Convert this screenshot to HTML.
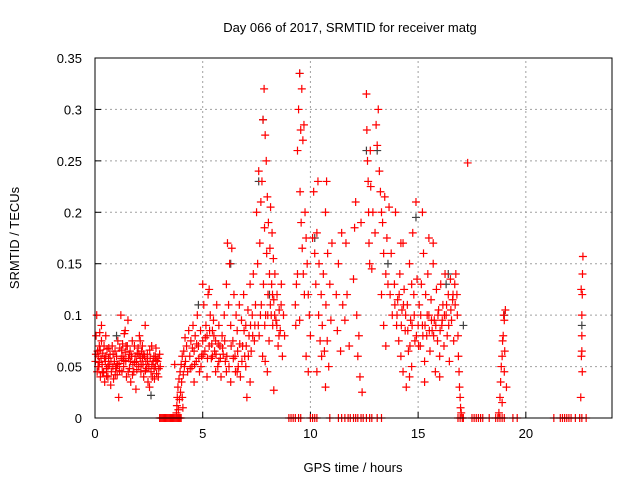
<!DOCTYPE html>
<html><head><meta charset="utf-8"><style>
body{margin:0;background:#fff;}
svg{display:block;font-family:"Liberation Sans",sans-serif;}
</style></head><body>
<svg id="chart" width="640" height="480" viewBox="0 0 640 480" xmlns="http://www.w3.org/2000/svg">
<text x="350" y="32" font-size="13" text-anchor="middle">Day 066 of 2017, SRMTID for receiver matg</text>
<text transform="translate(19,238) rotate(-90)" font-size="13" text-anchor="middle">SRMTID / TECUs</text>
<text x="353" y="472" font-size="13" text-anchor="middle">GPS time / hours</text>
<g id="grid"></g>
<g id="ticks"></g>
<g id="gray"></g>
<g id="red"></g>
<rect x="95" y="58" width="517" height="360" fill="none" stroke="#000" stroke-width="1"/>
</svg>
<script>
const xTicks=[0,5,10,15,20];
const yTicks=[0,0.05,0.1,0.15,0.2,0.25,0.3,0.35];
const yTickLabels=["0","0.05","0.1","0.15","0.2","0.25","0.3","0.35"];
const redPoints=[[0.02,.055],[0.05,.08],[0.08,.1],[0.1,.045],[0.12,.065],[0.15,.06],[0.18,.05],[0.2,.07],[0.22,.083],[0.25,.04],[0.28,.058],[0.3,.075],[0.33,.052],[0.36,.063],[0.4,.045],[0.42,.07],[0.45,.035],[0.48,.055],[0.5,.06],[0.53,.048],[0.56,.067],[0.6,.04],[0.63,.058],[0.66,.052],[0.7,.062],[0.73,.032],[0.76,.045],[0.8,.07],[0.83,.05],[0.86,.038],[0.9,.055],[0.93,.065],[0.96,.048],[1.0,.06],[1.03,.042],[1.06,.075],[1.1,.02],[1.12,.053],[1.15,.068],[1.2,.1],[1.22,.058],[1.25,.045],[1.28,.072],[1.3,.06],[1.33,.05],[1.36,.082],[1.4,.064],[1.43,.055],[1.46,.04],[1.5,.07],[1.53,.095],[1.56,.058],[1.6,.048],[1.63,.065],[1.66,.035],[1.7,.06],[1.73,.075],[1.76,.052],[1.8,.045],[1.83,.07],[1.86,.06],[1.9,.028],[1.93,.055],[1.96,.063],[2.0,.068],[2.03,.05],[2.06,.08],[2.1,.058],[2.13,.045],[2.16,.065],[2.2,.07],[2.23,.052],[2.26,.04],[2.3,.06],[2.33,.09],[2.36,.055],[2.4,.048],[2.43,.062],[2.46,.035],[2.5,.05],[2.53,.03],[2.56,.058],[2.6,.045],[2.63,.07],[2.66,.04],[2.7,.055],[2.73,.06],[2.76,.038],[2.8,.05],[2.83,.068],[2.86,.043],[2.9,.055],[2.93,.058],[2.96,.048],[3.0,.062],[3.03,.05],[0.5,.08],[1.4,.085],[0.3,.09],[2.1,.075],
[0.04,.062],[0.14,.05],[0.24,.066],[0.34,.044],[0.44,.058],[0.54,.041],[0.64,.068],[0.74,.055],[0.84,.062],[0.94,.042],[1.04,.052],[1.14,.046],[1.24,.066],[1.34,.056],[1.44,.07],[1.54,.045],[1.64,.055],[1.74,.042],[1.84,.054],[1.94,.047],[2.04,.062],[2.14,.052],[2.24,.062],[2.34,.046],[2.44,.055],[2.54,.066],[2.64,.052],[2.74,.048],[2.84,.056],[2.94,.04],[0.2,.054],[0.6,.05],[1.0,.05],[1.6,.062],[2.2,.058],[2.8,.06],
[3.78,.005],[3.8,.012],[3.82,.02],[3.85,.03],[3.87,.008],[3.9,.038],[3.92,.018],[3.95,.045],[3.97,.025],[4.0,.052],[4.02,.035],[4.05,.06],[4.08,.01],[4.1,.042],[4.12,.065],[4.15,.05],[4.18,.078],[4.2,.055],[4.25,.07],[4.3,.045],[4.35,.085],[3.7,.052],[4.05,.02],
[4.4,.06],[4.45,.075],[4.5,.05],[4.55,.09],[4.6,.065],[4.65,.08],[4.7,.055],[4.75,.1],[4.8,.07],[4.85,.045],[4.9,.085],[4.95,.06],[5.0,.075],[5.05,.11],[5.1,.065],[5.15,.09],[5.2,.08],[5.25,.12],[5.3,.07],[5.35,.1],[5.4,.058],[5.45,.085],[5.5,.095],[5.55,.065],[5.6,.075],[5.65,.11],[5.7,.05],[5.75,.09],[5.8,.07],[5.85,.04],[5.9,.08],[5.95,.062],[6.0,.1],[6.05,.055],[5.3,.125],[5.0,.13],[4.6,.035],[5.6,.045],[6.1,.045],[5.2,.04],
[4.42,.048],[4.52,.068],[4.62,.052],[4.72,.072],[4.82,.058],[4.92,.05],[5.02,.062],[5.12,.078],[5.22,.058],[5.32,.085],[5.42,.072],[5.52,.08],[5.62,.062],[5.72,.072],[5.82,.058],[5.92,.068],[6.02,.075],[5.45,.06],[5.75,.055],
[6.1,.13],[6.15,.17],[6.2,.11],[6.25,.15],[6.3,.09],[6.35,.165],[6.4,.075],[6.45,.12],[6.5,.06],[6.55,.1],[6.6,.085],[6.65,.05],[6.7,.11],[6.75,.04],[6.8,.095],[6.85,.07],[6.9,.12],[6.95,.06],[7.0,.09],[7.05,.02],[7.1,.105],[7.15,.08],[7.2,.13],[7.25,.065],[7.3,.1],[7.35,.14],[7.4,.075],[7.45,.11],[6.3,.035],[6.6,.045],[7.0,.05],[7.2,.035],
[6.12,.06],[6.22,.05],[6.32,.07],[6.42,.058],[6.52,.045],[6.62,.065],[6.72,.072],[6.82,.055],[6.92,.085],[7.02,.07],[7.12,.06],[7.22,.09],[7.32,.08],[7.42,.09],
[7.5,.2],[7.55,.15],[7.6,.24],[7.62,.08],[7.65,.17],[7.7,.21],[7.72,.11],[7.75,.23],[7.78,.06],[7.8,.29],[7.82,.13],[7.85,.32],[7.87,.185],[7.9,.275],[7.92,.1],[7.95,.25],[7.97,.16],[8.0,.215],[8.03,.12],[8.05,.19],[8.08,.075],[8.1,.14],[8.12,.165],[8.15,.205],[8.18,.1],[8.2,.13],[8.22,.18],[8.25,.09],[8.28,.155],[8.3,.115],[8.35,.14],[8.4,.095],[8.45,.12],[8.5,.07],[8.55,.105],[8.6,.085],[8.65,.13],[8.7,.06],[8.75,.1],[8.8,.08],[8.3,.027],[7.9,.055],[8.0,.045],
[7.58,.09],[7.68,.1],[7.88,.09],[8.02,.1],[8.14,.11],[8.24,.12],[8.34,.1],[8.44,.09],[8.54,.08],[8.64,.11],
[9.4,.26],[9.45,.3],[9.5,.335],[9.52,.22],[9.55,.28],[9.57,.19],[9.6,.32],[9.62,.165],[9.65,.27],[9.67,.14],[9.7,.285],[9.72,.12],[9.75,.2],[9.3,.11],[9.35,.13],[9.32,.09],[9.4,.14],[9.5,.095],[9.8,.175],[9.85,.15],[9.9,.12],[9.95,.1],[10.0,.08],[9.8,.06],[9.9,.045],
[10.1,.175],[10.15,.22],[10.2,.16],[10.25,.13],[10.3,.18],[10.35,.23],[10.38,.1],[10.4,.15],[10.45,.075],[10.5,.12],[10.52,.06],[10.55,.09],[10.6,.14],[10.65,.065],[10.7,.2],[10.72,.11],[10.75,.23],[10.78,.075],[10.8,.16],[10.85,.05],[10.9,.13],[10.95,.095],[11.0,.17],[10.3,.045],[10.7,.03],
[11.2,.12],[11.25,.085],[11.3,.15],[11.4,.065],[11.45,.18],[11.5,.11],[11.6,.095],[11.65,.17],[11.7,.12],[11.8,.07],[12.0,.135],[12.05,.185],[12.1,.21],[12.15,.1],[12.2,.06],[12.25,.08],[12.3,.04],[12.35,.19],[12.4,.025],
[12.6,.315],[12.62,.28],[12.65,.25],[12.68,.23],[12.7,.2],[12.72,.17],[12.75,.15],[12.78,.26],[12.8,.225],[12.85,.145],[12.9,.2],[13.0,.18],[13.05,.285],[13.1,.265],[13.15,.3],[13.2,.24],[13.25,.22],[13.3,.2],[13.35,.19],[13.4,.16],[13.45,.215],[13.5,.14],[13.55,.175],[13.6,.13],[13.65,.205],[13.7,.12],[13.75,.16],[13.8,.1],[13.3,.12],[13.4,.09],[13.5,.07],
[13.9,.13],[13.95,.2],[14.0,.09],[14.05,.115],[14.1,.075],[14.15,.14],[14.2,.06],[14.25,.105],[14.3,.045],[14.35,.125],[14.4,.085],[14.45,.03],[14.5,.11],[14.55,.065],[14.6,.15],[14.65,.095],[14.7,.05],[14.75,.18],[14.8,.12],[14.85,.075],[14.9,.21],[14.95,.135],[15.0,.09],[14.3,.17],[14.6,.04],[14.7,.13],[14.2,.17],
[13.92,.11],[14.02,.1],[14.12,.12],[14.22,.09],[14.32,.11],[14.42,.1],[14.52,.085],[14.62,.07],[14.72,.09],[14.82,.1],[14.92,.08],[15.02,.07],
[15.05,.11],[15.1,.07],[15.15,.13],[15.2,.09],[15.25,.16],[15.3,.055],[15.35,.12],[15.4,.08],[15.45,.14],[15.5,.1],[15.55,.065],[15.6,.115],[15.65,.085],[15.7,.15],[15.75,.095],[15.8,.045],[15.85,.125],[15.9,.075],[15.95,.105],[16.0,.06],[16.05,.13],[16.1,.09],[16.15,.11],[16.2,.07],[16.25,.14],[16.3,.1],[16.35,.08],[16.4,.12],[16.45,.055],[16.5,.135],[16.55,.095],[16.6,.115],[16.65,.075],[16.7,.13],[16.75,.14],[16.8,.12],[16.82,.1],[16.85,.08],[16.87,.06],[16.9,.045],[16.92,.03],[16.95,.02],[16.97,.01],[17.0,.005],[15.2,.2],[15.5,.175],[15.7,.17],[17.3,.248],[15.3,.035],[16.0,.04],
[15.12,.1],[15.22,.08],[15.32,.09],[15.42,.1],[15.52,.085],[15.62,.095],[15.72,.08],[15.82,.09],[15.92,.1],[16.02,.085],[16.12,.095],[16.22,.1],[16.32,.11],[16.42,.09],[16.52,.105],[16.62,.12],[16.72,.11],
[18.75,.005],[18.8,.02],[18.83,.035],[18.86,.05],[18.9,.06],[18.92,.075],[18.95,.08],[18.97,.1],[19.0,.095],[19.02,.065],[19.05,.105],[19.0,.045],[18.9,.015],[19.1,.03],
[22.55,.02],[22.58,.06],[22.6,.08],[22.6,.1],[22.62,.12],[22.63,.14],[22.65,.157],[22.6,.065],[22.57,.125],[22.62,.045]];
const zeroHours=[3.0,3.05,3.1,3.15,3.2,3.25,3.3,3.35,3.4,3.45,3.5,3.55,3.6,3.65,3.7,3.75,3.8,3.85,3.9,3.95,4.0,9.0,9.1,9.2,9.3,9.45,9.55,10.0,10.1,10.2,10.3,10.9,11.3,11.45,11.6,11.75,11.85,12.0,12.1,12.2,12.35,12.45,12.6,12.75,12.85,13.1,13.3,16.85,16.95,17.05,17.1,17.5,17.6,17.7,17.8,17.9,18.0,18.3,18.6,18.7,18.8,18.9,19.0,19.4,19.6,21.3,21.6,21.7,21.8,21.9,22.0,22.1,22.3,22.5,22.6,22.8];
const grayPoints=[[7.6,.23],[7.8,.29],[8.1,.12],[9.5,.335],[10.2,.175],[12.6,.26],[13.1,.26],[13.6,.15],[14.9,.195],[16.4,.14],[17.1,.09],[19.0,.1],[22.6,.09],[4.8,.11],[1.0,.08],[2.6,.022],[16.3,.13],[6.3,.15]];

const NS="http://www.w3.org/2000/svg";
const X0=95,X1=612,Y0=418,Y1=58,XMAX=24,YMAX=0.35;
function sx(v){return X0+(X1-X0)*v/XMAX;}
function sy(v){return Y0-(Y0-Y1)*v/YMAX;}
function mk(tag,attrs,parent){const e=document.createElementNS(NS,tag);for(const k in attrs)e.setAttribute(k,attrs[k]);parent.appendChild(e);return e;}
const grid=document.getElementById('grid'),ticks=document.getElementById('ticks');
yTicks.forEach((t,i)=>{
  const y=sy(t);
  if(i>0&&i<yTicks.length-1){const g=mk('line',{x1:X0,x2:X1,y1:y,y2:y,stroke:'#a0a0a0','stroke-dasharray':'2,3'},grid);
  
  }
  const tl=mk('line',{x1:X0,x2:X0+6,y1:y,y2:y,stroke:'#000'},ticks);
  
  
  const tx=mk('text',{x:X0-13,y:y+5,'font-size':'13','text-anchor':'end'},ticks);tx.textContent=yTickLabels[i];
  
  
});
xTicks.forEach(t=>{
  const x=sx(t);
  if(t>0){const g=mk('line',{x1:x,x2:x,y1:Y0,y2:Y1,stroke:'#a0a0a0','stroke-dasharray':'2,3'},grid);
  
  }
  const tl=mk('line',{x1:x,x2:x,y1:Y0,y2:Y0-6,stroke:'#000'},ticks);
  
  
  const tx=mk('text',{x:x,y:Y0+20,'font-size':'13','text-anchor':'middle'},ticks);tx.textContent=String(t);
  
  
});
function plus(g,x,y,c){
  return mk('path',{d:`M${x-4},${y}H${x+4}M${x},${y-4}V${y+4}`,stroke:c,'stroke-width':'1.2',fill:'none'},g);
}
const gg=document.getElementById('gray'),rg=document.getElementById('red');
grayPoints.forEach(p=>{const e=plus(gg,sx(p[0]),sy(p[1]),'#404040');
  
  });
redPoints.forEach(p=>{const e=plus(rg,sx(p[0]),sy(p[1]),'#ff0000');
  
  });
zeroHours.forEach(h=>{const e=plus(rg,sx(h),sy(0),'#ff0000');
  
  });
</script>
</body></html>
